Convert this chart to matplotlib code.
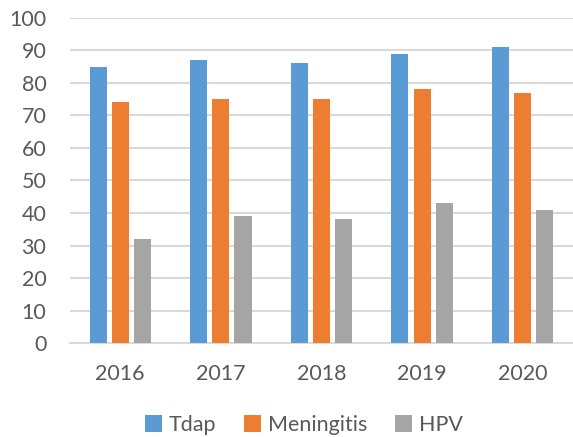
import numpy as np
import matplotlib.pyplot as plt

years = ["2016", "2017", "2018", "2019", "2020"]
tdap = [85, 87, 86, 89, 91]
meningitis = [74, 75, 75, 78, 77]
hpv = [32, 39, 38, 43, 41]

plt.rcParams['font.family'] = ['Lato', 'DejaVu Sans']

fig = plt.figure(figsize=(5.73, 4.37), dpi=100)
ax = fig.add_axes([0.122, 0.215, 0.878, 0.744])

x = np.arange(len(years))
w = 0.17
off = 0.22
ax.bar(x - off, tdap, w, color="#5B9BD5", label="Tdap", zorder=3)
ax.bar(x, meningitis, w, color="#ED7D31", label="Meningitis", zorder=3)
ax.bar(x + off, hpv, w, color="#A5A5A5", label="HPV", zorder=3)

ax.set_xlim(-0.5, len(years) - 0.5)
ax.set_ylim(0, 100)
ax.set_yticks(range(0, 101, 10))
ax.set_xticks(x)
ax.set_xticklabels(years)
ax.grid(axis="y", color="#D9D9D9", linewidth=1.5, zorder=0)
for s in ["top", "right", "left"]:
    ax.spines[s].set_visible(False)
ax.spines["bottom"].set_color("#D9D9D9")
ax.spines["bottom"].set_linewidth(1.5)
ax.tick_params(axis="both", length=0, labelsize=15.5, colors="#595959")
ax.tick_params(axis="x", pad=15)
ax.tick_params(axis="y", pad=17)

ax.legend(loc="lower center", bbox_to_anchor=(0.465, -0.343), ncol=3, frameon=False,
          fontsize=15.5, labelcolor="#595959", handlelength=0.8, handleheight=0.8,
          handletextpad=0.3, columnspacing=1.3)

fig.savefig("out.png")
